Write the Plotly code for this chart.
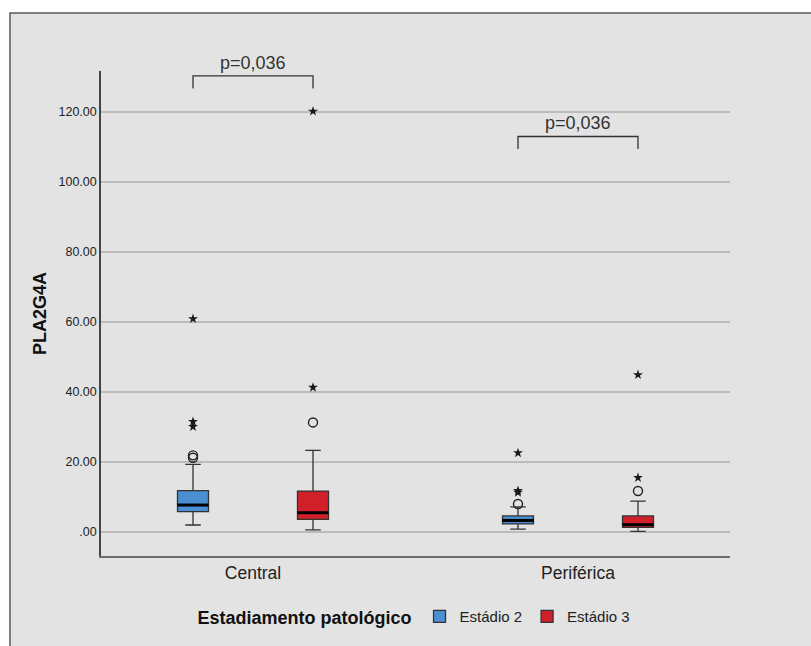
import plotly.graph_objects as go

# Categories and groups
categories = ["Central", "Periférica"]
groups = ["Estádio 2", "Estádio 3"]

# Box statistics per group (one value per category)
q1 = {"Estádio 2": [5.8, 2.3], "Estádio 3": [3.6, 1.3]}
median = {"Estádio 2": [7.7, 3.3], "Estádio 3": [5.5, 2.1]}
q3 = {"Estádio 2": [11.8, 4.6], "Estádio 3": [11.7, 4.6]}
lower_fence = {"Estádio 2": [2.0, 0.8], "Estádio 3": [0.6, 0.2]}
upper_fence = {"Estádio 2": [19.3, 7.2], "Estádio 3": [23.3, 8.8]}

# Outliers (circles) and extreme values (stars), per group and category
outliers = {
    "Estádio 2": [[21.2, 21.9], [8.0]],
    "Estádio 3": [[31.3], [11.7]],
}
extremes = {
    "Estádio 2": [[30.1, 31.5, 60.9], [11.3, 11.8, 22.6]],
    "Estádio 3": [[41.3, 120.2], [15.5, 44.9]],
}

# p-values shown above each category
p_labels = ["p=0,036", "p=0,036"]
bracket_top = [130.3, 113.0]
bracket_drop = 3.6

# Y axis ticks
y_ticks = [0, 20, 40, 60, 80, 100, 120]
y_ticktext = [".00", "20.00", "40.00", "60.00", "80.00", "100.00", "120.00"]

colors = {"Estádio 2": "#4a8fd2", "Estádio 3": "#d1202a"}
offsets = {"Estádio 2": -0.1846, "Estádio 3": 0.1846}
box_w = 0.0954
font_family = "Liberation Sans, Arial, sans-serif"

fig = go.Figure()

for g in groups:
    xs = [i + offsets[g] for i in range(len(categories))]
    fig.add_trace(go.Box(
        name=g, x=xs,
        q1=q1[g], median=median[g], q3=q3[g],
        lowerfence=lower_fence[g], upperfence=upper_fence[g],
        width=box_w, whiskerwidth=0.5,
        fillcolor=colors[g], line=dict(color="#333333", width=1.3),
        boxpoints=False, hoverinfo="skip",
    ))

for g in groups:
    xs = [i + offsets[g] for i in range(len(categories))]
    # thick median line
    mx, my = [], []
    for x, m in zip(xs, median[g]):
        mx += [x - box_w / 2, x + box_w / 2, None]
        my += [m, m, None]
    fig.add_trace(go.Scatter(x=mx, y=my, mode="lines", showlegend=False,
                             line=dict(color="#000000", width=3), hoverinfo="skip"))
    # outliers
    ox, oy = [], []
    for x, vals in zip(xs, outliers[g]):
        ox += [x] * len(vals)
        oy += vals
    fig.add_trace(go.Scatter(x=ox, y=oy, mode="markers", showlegend=False,
                             marker=dict(symbol="circle-open", size=9,
                                         line=dict(color="#222222", width=1.4),
                                         color="#222222"),
                             hoverinfo="skip"))
    # extremes
    ex, ey = [], []
    for x, vals in zip(xs, extremes[g]):
        ex += [x] * len(vals)
        ey += vals
    fig.add_trace(go.Scatter(x=ex, y=ey, mode="markers", showlegend=False,
                             marker=dict(symbol="star", size=7.5, color="#1a1a1a",
                                         line=dict(width=0)),
                             hoverinfo="skip", cliponaxis=False))

# significance brackets
for i, (lab, top) in enumerate(zip(p_labels, bracket_top)):
    x0 = i + offsets["Estádio 2"]
    x1 = i + offsets["Estádio 3"]
    fig.add_trace(go.Scatter(
        x=[x0, x0, x1, x1], y=[top - bracket_drop, top, top, top - bracket_drop],
        mode="lines", showlegend=False, cliponaxis=False,
        line=dict(color="#333333", width=1.3), hoverinfo="skip"))
    fig.add_annotation(x=(x0 + x1) / 2, y=top, text=lab, showarrow=False,
                       yanchor="bottom", yshift=1,
                       font=dict(size=18, color="#333333", family=font_family))

# outer frame and background
fig.add_shape(type="rect", xref="paper", yref="paper",
              x0=-0.1447, x1=1.135, y0=-0.1938, y1=1.1196,
              fillcolor="#e3e3e3", line=dict(color="#5a5a5a", width=1.5),
              layer="below")

fig.update_layout(
    width=811, height=646,
    margin=dict(l=101, r=81, t=71, b=90),
    paper_bgcolor="white",
    plot_bgcolor="rgba(0,0,0,0)",
    font=dict(family=font_family, color="#1a1a1a"),
    showlegend=True,
    legend=dict(
        orientation="h", x=0.5, xanchor="center", y=-0.126, yanchor="middle",
        title=dict(text="Estadiamento patológico", side="left",
                   font=dict(size=18, weight="bold", color="#111111")),
        font=dict(size=15, color="#222222"),
        bgcolor="rgba(0,0,0,0)", itemwidth=30, tracegroupgap=0,
    ),
    xaxis=dict(
        range=[-0.4677, 1.4677], tickvals=list(range(len(categories))),
        ticktext=categories, showgrid=False, zeroline=False,
        showline=True, linecolor="#6e6e6e", linewidth=2, ticks="",
        tickfont=dict(size=17.5, color="#222222"),
    ),
    yaxis=dict(
        range=[-6.86, 131.71], tickvals=y_ticks, ticktext=y_ticktext,
        showgrid=True, gridcolor="#bcbcbc", gridwidth=1.5, zeroline=False,
        showline=True, linecolor="#444444", linewidth=1.5, ticks="",
        tickfont=dict(size=12.5, color="#222222"),
        title=dict(text="PLA2G4A", font=dict(size=18, weight="bold", color="#111111"),
                   standoff=7),
    ),
)

fig.write_html("out.html")
